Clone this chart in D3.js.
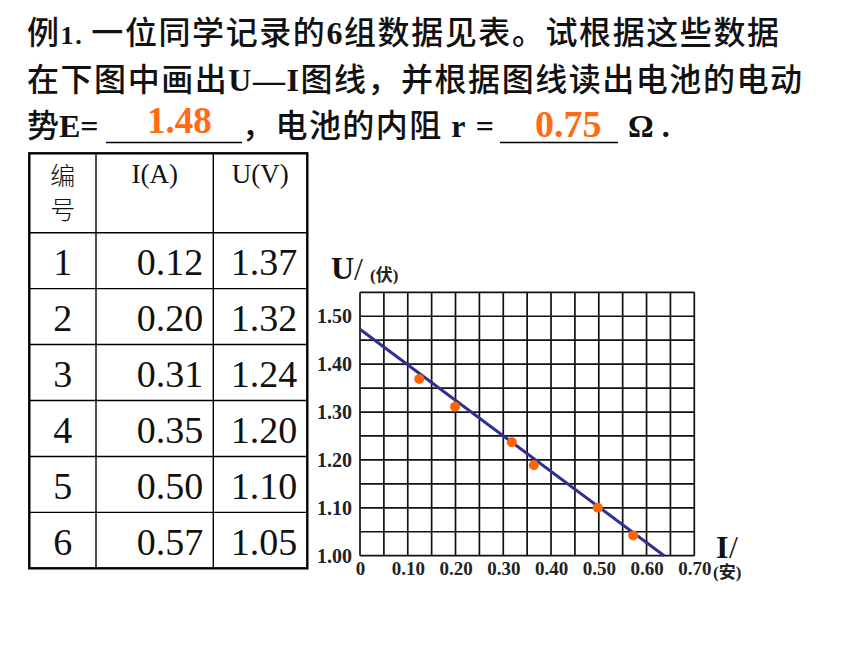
<!DOCTYPE html>
<html><head><meta charset="utf-8">
<script src="https://cdn.jsdelivr.net/npm/d3@7"></script>
<style>body{margin:0;background:#fff} svg{display:block}</style>
</head><body>
<svg id="c" width="860" height="645"></svg>
<script>
// ---- data ----
const ids = ["1","2","3","4","5","6"];
const tableI = ["0.12","0.20","0.31","0.35","0.50","0.57"];
const tableU = ["1.37","1.32","1.24","1.20","1.10","1.05"];
const tableHeadId = ["编","号"];
const tableHeadI = "I(A)";
const tableHeadU = "U(V)";
const plotI = [0.124,0.199,0.318,0.364,0.498,0.572];
const plotU = [1.369,1.311,1.237,1.189,1.100,1.042];
const fitI = [0, 0.637];
const fitU = [1.473, 1.00];
const xTicks = [0,0.10,0.20,0.30,0.40,0.50,0.60,0.70];
const xTickLabels = ["0","0.10","0.20","0.30","0.40","0.50","0.60","0.70"];
const yTicks = [1.00,1.10,1.20,1.30,1.40,1.50];
const yTickLabels = ["1.00","1.10","1.20","1.30","1.40","1.50"];
const gridStepI = 0.05, gridStepU = 0.05;
const answerE = "1.48", answerR = "0.75";

const SERIF = "'Liberation Serif','Times New Roman',serif";
const CJK = "'Noto Sans CJK SC','Noto Sans CJK TC',sans-serif";
const MIX = "'Liberation Serif','Noto Sans CJK SC',serif";
const svg = d3.select("#c");

// ---- header text ----
function line(y, parts, len, x0){
  const t = svg.append("text").attr("x", x0).attr("y", y).attr("font-size", 32).attr("fill","#111");
  if (len) t.attr("textLength", len).attr("lengthAdjust","spacing");
  parts.forEach(p => {
    t.append("tspan").text(p[0])
      .attr("font-family", p[1] ? SERIF : CJK)
      .attr("font-weight", p[1] ? "bold" : 500)
      .attr("font-size", p[2] || 32);
  });
  return t;
}
line(44, [["例"],["1. ",1,26],["一位同学记录的"],["6",1],["组数据见表。试根据这些数据"]], 752, 27);
line(90.5, [["在下图中画出"],["U—I",1],["图线，并根据图线读出电池的电动"]], 775, 27);
line(137, [["势"],["E=",1]], null, 27);
line(137, [["，电池的内阻 "],["r =",1]], 252, 242);
line(137, [["Ω .",1]], null, 628);
svg.append("line").attr("x1",106).attr("x2",242).attr("y1",142.5).attr("y2",142.5).attr("stroke","#000").attr("stroke-width",1.6);
svg.append("line").attr("x1",500).attr("x2",618).attr("y1",142.5).attr("y2",142.5).attr("stroke","#000").attr("stroke-width",1.6);
svg.append("text").attr("x",147).attr("y",133).text(answerE)
  .attr("font-family",SERIF).attr("font-weight","bold").attr("font-size",37).attr("fill","#ff6a13");
svg.append("text").attr("x",535).attr("y",137).text(answerR)
  .attr("font-family",SERIF).attr("font-weight","bold").attr("font-size",38).attr("fill","#ff6a13");

// ---- table ----
const colX = [29.3, 96, 213.3, 307.3];
const headTop = 153.3, headBot = 232.7, tabBot = 568.3;
const rowY = d3.scaleBand().domain(ids).range([headBot, tabBot]);
const tg = svg.append("g");
tg.append("rect").attr("x",colX[0]).attr("y",headTop).attr("width",colX[3]-colX[0]).attr("height",tabBot-headTop)
  .attr("fill","none").attr("stroke","#000").attr("stroke-width",2.4);
[colX[1], colX[2]].forEach(x => tg.append("line").attr("x1",x).attr("x2",x).attr("y1",headTop).attr("y2",tabBot)
  .attr("stroke","#000").attr("stroke-width",1.4));
[headBot].concat(ids.slice(1).map(d => rowY(d))).forEach(y => tg.append("line").attr("x1",colX[0]).attr("x2",colX[3])
  .attr("y1",y).attr("y2",y).attr("stroke","#000").attr("stroke-width",1.4));
tableHeadId.forEach((c,i) => tg.append("text").text(c).attr("x",(colX[0]+colX[1])/2).attr("y",185+i*34)
  .attr("text-anchor","middle").attr("font-family",CJK).attr("font-weight",300).attr("font-size",25).attr("fill","#111"));
tg.append("text").text(tableHeadI).attr("x",(colX[1]+colX[2])/2).attr("y",183).attr("text-anchor","middle")
  .attr("font-family",SERIF).attr("font-size",27).attr("fill","#111");
tg.append("text").text(tableHeadU).attr("x",(colX[2]+colX[3])/2).attr("y",183).attr("text-anchor","middle")
  .attr("font-family",SERIF).attr("font-size",27).attr("fill","#111");
const rows = tg.selectAll("g.row").data(ids).join("g").attr("class","row")
  .attr("transform", d => `translate(0,${rowY(d) + 42.5})`);
rows.append("text").text(d => d).attr("x",(colX[0]+colX[1])/2).attr("text-anchor","middle")
  .attr("font-family",SERIF).attr("font-size",38).attr("fill","#111");
rows.append("text").text((d,i) => tableI[i]).attr("x",colX[2]-10).attr("text-anchor","end")
  .attr("font-family",SERIF).attr("font-size",38).attr("fill","#111");
rows.append("text").text((d,i) => tableU[i]).attr("x",colX[3]-10).attr("text-anchor","end")
  .attr("font-family",SERIF).attr("font-size",38).attr("fill","#111");

// ---- chart ----
const x = d3.scaleLinear().domain([0, 0.70]).range([360, 694.3]);
const y = d3.scaleLinear().domain([1.00, 1.55]).range([555.7, 292.3]);
const gg = svg.append("g");
const gx = d3.range(0, 0.70 + 1e-9, gridStepI);
const gy = d3.range(1.00, 1.55 + 1e-9, gridStepU);
gg.selectAll("line.v").data(gx).join("line").attr("class","v")
  .attr("x1",d=>x(d)).attr("x2",d=>x(d)).attr("y1",y(1.55)).attr("y2",y(1.00))
  .attr("stroke","#111").attr("stroke-width",1.7);
gg.selectAll("line.h").data(gy).join("line").attr("class","h")
  .attr("x1",x(0)).attr("x2",x(0.70)).attr("y1",d=>y(d)).attr("y2",d=>y(d))
  .attr("stroke","#111").attr("stroke-width",1.7);

const ax = svg.append("g").attr("transform",`translate(0,${y(1.00)})`)
  .call(d3.axisBottom(x).tickValues(xTicks).tickFormat((d,i)=>xTickLabels[i]).tickSize(0).tickPadding(6));
const ay = svg.append("g").attr("transform",`translate(${x(0)},0)`)
  .call(d3.axisLeft(y).tickValues(yTicks).tickFormat((d,i)=>yTickLabels[i]).tickSize(0).tickPadding(8));
[ax, ay].forEach(a => {
  a.select(".domain").remove();
  a.selectAll("text").attr("font-family",SERIF).attr("font-weight","bold").attr("fill","#222");
});
ax.selectAll("text").attr("font-size",19);
ay.selectAll("text").attr("font-size",20);

const fit = fitI.map((v,i)=>[v, fitU[i]]);
svg.append("path").datum(fit).attr("d", d3.line().x(d=>x(d[0])).y(d=>y(d[1])))
  .attr("stroke","#2e3192").attr("stroke-width",3).attr("fill","none");
svg.selectAll("circle.pt").data(plotI.map((v,i)=>[v, plotU[i]])).join("circle").attr("class","pt")
  .attr("cx",d=>x(d[0])).attr("cy",d=>y(d[1])).attr("r",5).attr("fill","#ff6600");

// axis titles
svg.append("text").text("U").attr("x",331).attr("y",279).attr("font-family",SERIF).attr("font-weight","bold").attr("font-size",32).attr("fill","#111");
svg.append("text").text("/").attr("x",354).attr("y",280).attr("font-family",SERIF).attr("font-size",32).attr("fill","#111");
svg.append("text").text("(伏)").attr("x",370).attr("y",281).attr("font-family",MIX).attr("font-weight","bold").attr("font-size",17).attr("fill","#222");
svg.append("text").text("I").attr("x",716).attr("y",558).attr("font-family",SERIF).attr("font-weight","bold").attr("font-size",32).attr("fill","#111");
svg.append("text").text("/").attr("x",729).attr("y",558).attr("font-family",SERIF).attr("font-size",32).attr("fill","#111");
svg.append("text").text("(安)").attr("x",713).attr("y",578).attr("font-family",MIX).attr("font-weight","bold").attr("font-size",17).attr("fill","#222");
</script>
</body></html>
